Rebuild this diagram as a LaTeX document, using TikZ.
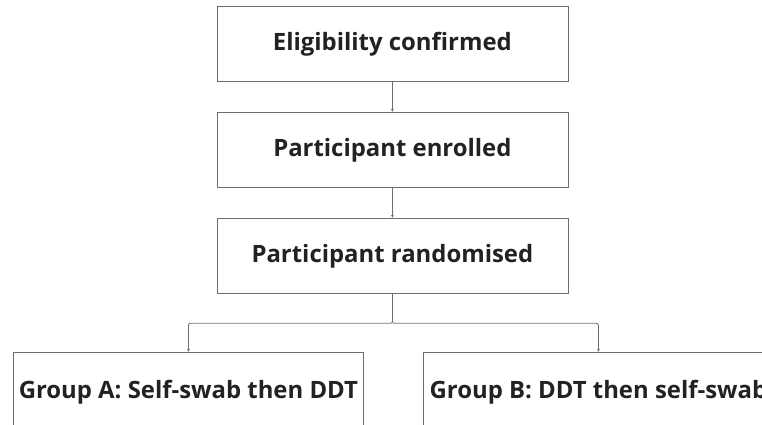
\documentclass[tikz,border=0pt]{standalone}
\usepackage{fontspec}
\setmainfont{Open Sans}
\usetikzlibrary{arrows.meta}

\definecolor{edgegray}{HTML}{6E6E6E}
\definecolor{textdark}{HTML}{222222}

\begin{document}
\begin{tikzpicture}[x=1pt, y=-1pt, every node/.style={font=\fontsize{23.9}{28}\selectfont\bfseries, text=textdark}, >={Latex[length=3pt,width=3pt]}]
	\tikzset{stagebox/.style={draw=edgegray, line width=0.8pt, minimum width=351pt, minimum height=75pt, anchor=north west, inner sep=0pt},
		flow/.style={->, draw=edgegray, line width=0.8pt}}
	\useasboundingbox (0,0) rectangle (762,425);
	\clip (0,0) rectangle (762,425);
	\node[stagebox] (elig) at (216.5,6.5) {Eligibility confirmed};
	\node[stagebox] (enrol) at (216.5,112) {Participant enrolled};
	\node[stagebox] (rand) at (216.5,218) {Participant randomised};
	\node[stagebox, minimum width=350pt, minimum height=80pt] (grpA) at (13,352) {Group A: Self-swab then DDT};
	\node[stagebox, minimum width=350pt, minimum height=80pt] (grpB) at (423,352) {Group B: DDT then self-swab};
	\draw[flow] (elig) -- (enrol);
	\draw[flow] (enrol) -- (rand);
	\draw[flow, rounded corners=2pt] (rand.south) -- ++(0,29.5) -| (grpA.north);
	\draw[flow, rounded corners=2pt] (rand.south) -- ++(0,29.5) -| (grpB.north);
\end{tikzpicture}
\end{document}
